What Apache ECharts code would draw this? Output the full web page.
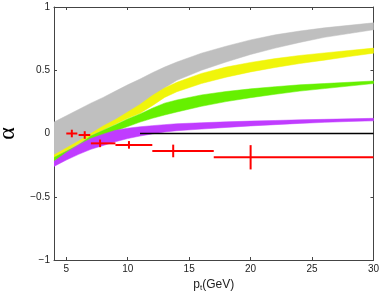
<!DOCTYPE html>
<html><head><meta charset="utf-8">
<script src="https://cdn.jsdelivr.net/npm/echarts@6/dist/echarts.min.js"></script>
<style>html,body{margin:0;padding:0;background:#fff}#c{width:382px;height:295px}</style>
</head><body><div id="c"></div>
<script>
// Band sample positions
const xs = [4,5,6,7,8,9,10,11,12,13,14,16,18,20,22,24,26,28,30];
// Gray band
const grayUpper  = [0.09,0.14,0.19,0.24,0.285,0.335,0.385,0.43,0.48,0.525,0.565,0.635,0.69,0.74,0.78,0.81,0.835,0.855,0.875];
const grayLower  = [-0.2,-0.145,-0.09,-0.03,0.03,0.08,0.14,0.2,0.29,0.36,0.42,0.5,0.565,0.625,0.675,0.72,0.76,0.79,0.82];
// Yellow band
const yellowUpper = [-0.17,-0.115,-0.06,0.0,0.06,0.11,0.17,0.23,0.3,0.36,0.405,0.475,0.525,0.562,0.592,0.617,0.637,0.656,0.675];
const yellowLower = [-0.19,-0.135,-0.08,-0.015,0.03,0.075,0.12,0.16,0.22,0.285,0.33,0.395,0.445,0.487,0.522,0.553,0.58,0.608,0.635];
// Green band
const greenUpper = [-0.19,-0.14,-0.09,-0.02,0.025,0.07,0.115,0.155,0.2,0.24,0.265,0.305,0.332,0.353,0.37,0.385,0.395,0.405,0.415];
const greenLower = [-0.22,-0.17,-0.115,-0.06,-0.015,0.02,0.055,0.09,0.12,0.146,0.17,0.215,0.252,0.283,0.31,0.335,0.355,0.375,0.395];
// Purple band
const purpleUpper = [-0.22,-0.15,-0.09,-0.04,-0.005,0.025,0.042,0.053,0.062,0.07,0.077,0.085,0.092,0.098,0.103,0.108,0.112,0.116,0.12];
const purpleLower = [-0.26,-0.21,-0.165,-0.125,-0.095,-0.065,-0.04,-0.02,-0.003,0.012,0.022,0.035,0.048,0.06,0.07,0.08,0.088,0.095,0.1];

// Data points with error bars
const ptX    = [5.45, 6.5, 7.75, 10.1, 13.7, 20.0];
const ptY    = [0.0, -0.012, -0.078, -0.09, -0.138, -0.188];
const ptXlo  = [5.0, 6.0, 7.0, 9.0, 12.0, 17.0];
const ptXhi  = [5.9, 6.95, 9.0, 12.0, 17.0, 30.0];
const ptYerr = [0.03, 0.03, 0.03, 0.03, 0.05, 0.096];

// Reference zero line
const refX = [11, 30];
const refY = [0, 0];

// Tick values
const xTicks = [5,10,15,20,25,30];
const yMin = -1, yMax = 1, yStep = 0.5;

function band(upper, lower, color) {
  return {
    type: 'custom', silent: true, clip: true,
    data: [[xs[0], upper[0]]],
    renderItem: function (params, api) {
      const pts = [];
      for (let i = 0; i < xs.length; i++) pts.push(api.coord([xs[i], upper[i]]));
      for (let i = xs.length - 1; i >= 0; i--) pts.push(api.coord([xs[i], lower[i]]));
      return { type: 'polygon', shape: { points: pts, smooth: 0 }, style: { fill: color, stroke: color, lineWidth: 0.5 } };
    }
  };
}

const ptData = ptX.map((x, i) => [x, ptY[i], ptXlo[i], ptXhi[i], ptY[i] - ptYerr[i], ptY[i] + ptYerr[i]]);

const axisColor = '#444';
const labelFont = { fontFamily: 'Liberation Sans', fontSize: 10, color: '#222' };
const chart = echarts.init(document.getElementById('c'), null, { renderer: 'canvas' });
chart.setOption({
  animation: false,
  grid: { left: 54, right: 8.5, top: 7, bottom: 35, containLabel: false, outerBoundsMode: 'none' },
  xAxis: [{
    type: 'value', min: 4, max: 30, position: 'bottom',
    axisLine: { show: true, onZero: false, lineStyle: { color: axisColor, width: 1 } },
    axisTick: { show: true, inside: true, length: 3, customValues: xTicks, lineStyle: { color: axisColor } },
    axisLabel: Object.assign({ customValues: xTicks, margin: 4 }, labelFont),
    splitLine: { show: false },
    name: 'p{s|t}(GeV)', nameLocation: 'middle', nameGap: 18,
    nameTextStyle: { fontFamily: 'Liberation Sans', fontSize: 12, color: '#222', rich: { s: { fontSize: 8, verticalAlign: 'bottom', padding: [6,0,0,0] } } }
  }, {
    type: 'value', min: 4, max: 30, position: 'top',
    axisLine: { show: true, onZero: false, lineStyle: { color: axisColor, width: 1 } },
    axisTick: { show: true, inside: true, length: 3, customValues: xTicks, lineStyle: { color: axisColor } },
    axisLabel: { show: false }, splitLine: { show: false }
  }],
  yAxis: [{
    type: 'value', min: yMin, max: yMax, interval: yStep, position: 'left',
    axisLine: { show: true, onZero: false, lineStyle: { color: axisColor, width: 1 } },
    axisTick: { show: true, inside: true, length: 3, lineStyle: { color: axisColor } },
    axisLabel: Object.assign({ margin: 4, formatter: v => v < 0 ? '\u2212' + Math.abs(v) : String(v) }, labelFont),
    splitLine: { show: false },
    name: 'α', nameLocation: 'middle', nameRotate: 90, nameGap: 28,
    nameTextStyle: { fontFamily: 'Liberation Serif', fontSize: 24, color: '#000' }
  }, {
    type: 'value', min: yMin, max: yMax, interval: yStep, position: 'right',
    axisLine: { show: true, onZero: false, lineStyle: { color: axisColor, width: 1 } },
    axisTick: { show: true, inside: true, length: 3, lineStyle: { color: axisColor } },
    axisLabel: { show: false }, splitLine: { show: false }
  }],
  series: [
    band(grayUpper, grayLower, '#bfbfbf'),
    band(yellowUpper, yellowLower, '#f0f50a'),
    band(greenUpper, greenLower, '#66f000'),
    band(purpleUpper, purpleLower, '#c03cff'),
    {
      type: 'line', data: refX.map((x, i) => [x, refY[i]]), symbol: 'none',
      lineStyle: { color: '#000', width: 1.5 }, silent: true
    },
    {
      type: 'custom', data: ptData, silent: true,
      renderItem: function (params, api) {
        const y = api.value(1);
        const l = api.coord([api.value(2), y]);
        const r = api.coord([api.value(3), y]);
        const b = api.coord([api.value(0), api.value(4)]);
        const t = api.coord([api.value(0), api.value(5)]);
        const st = { stroke: '#ff0000', lineWidth: 2 };
        return { type: 'group', children: [
          { type: 'line', shape: { x1: l[0], y1: l[1], x2: r[0], y2: r[1] }, style: st },
          { type: 'line', shape: { x1: b[0], y1: b[1], x2: t[0], y2: t[1] }, style: st }
        ] };
      }
    }
  ]
});
</script></body></html>
